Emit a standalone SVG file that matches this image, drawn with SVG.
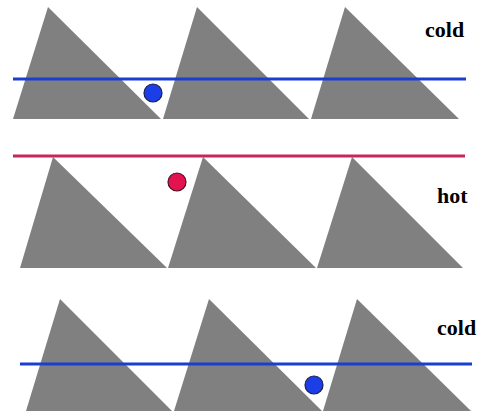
<svg xmlns="http://www.w3.org/2000/svg" width="482" height="412" viewBox="0 0 482 412">
<style>
.tri{fill:#808080}
.cold{stroke:#1a3fd0;stroke-width:3}
.hotl{stroke:#c8255c;stroke-width:3}
.bb{fill:#1c3ee6;stroke:#1a2050;stroke-width:1.2}
.rb{fill:#e3134f;stroke:#4a1020;stroke-width:1.2}
.lbl{font-weight:bold;font-size:22px;fill:#000}
</style>
<rect width="482" height="412" fill="#fff"/>
<g id="row1">
<polygon class="tri" points="48,7 13,119 161,119"/>
<polygon class="tri" points="197,7 163,119 309,119"/>
<polygon class="tri" points="345,7 311,119 459,119"/>
<line class="cold" x1="13" y1="79" x2="466" y2="79"/>
<circle class="bb" cx="153" cy="93" r="9"/>
<text class="lbl" font-family="'Liberation Serif', 'Times New Roman', serif" x="425" y="37">cold</text>
</g>
<g id="row2">
<polygon class="tri" points="53,157 20,268 167,268"/>
<polygon class="tri" points="203,157 168,268 316,268"/>
<polygon class="tri" points="352,157 317,268 463,268"/>
<line class="hotl" x1="13" y1="156" x2="465" y2="156"/>
<circle class="rb" cx="177" cy="182" r="9"/>
<text class="lbl" font-family="'Liberation Serif', 'Times New Roman', serif" x="437" y="203">hot</text>
</g>
<g id="row3">
<polygon class="tri" points="60,299 26,411 172,411"/>
<polygon class="tri" points="209,299 174,411 322,411"/>
<polygon class="tri" points="357,299 323,411 471,411"/>
<line class="cold" x1="20" y1="364" x2="472" y2="364"/>
<circle class="bb" cx="314" cy="385" r="9"/>
<text class="lbl" font-family="'Liberation Serif', 'Times New Roman', serif" x="437" y="335">cold</text>
</g>
</svg>
